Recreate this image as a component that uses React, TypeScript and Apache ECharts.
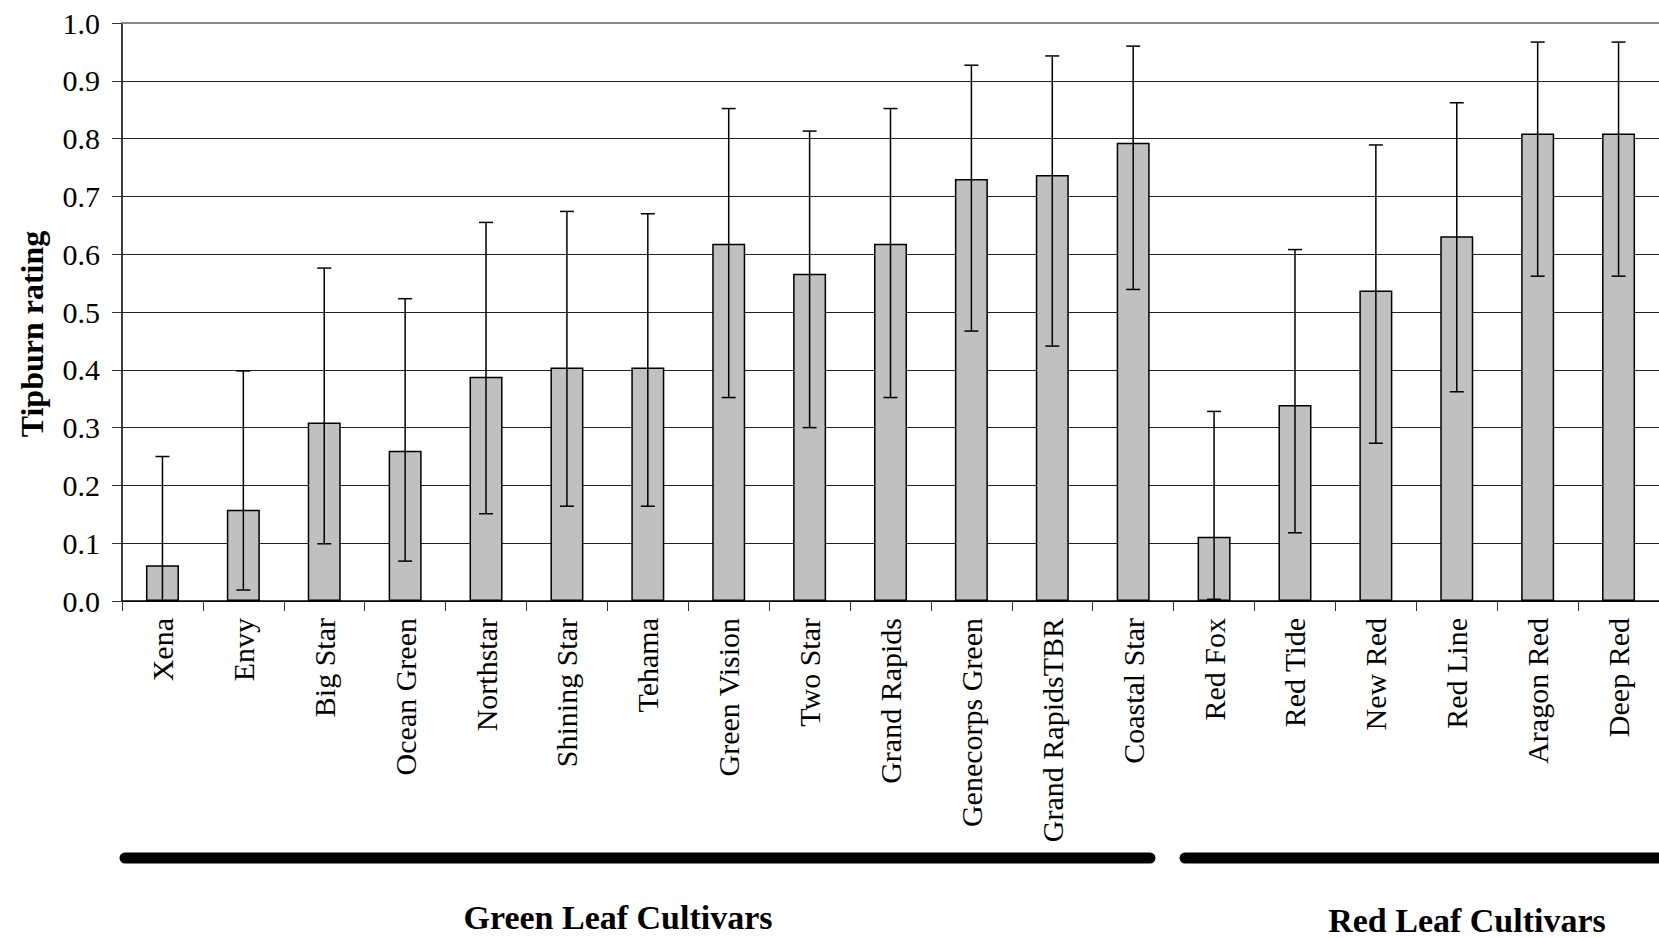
import React, { useEffect, useRef } from "react";
import * as echarts from "echarts";

const categories = [
  "Xena", "Envy", "Big Star", "Ocean Green", "Northstar", "Shining Star", "Tehama",
  "Green Vision", "Two Star", "Grand Rapids", "Genecorps Green", "Grand RapidsTBR",
  "Coastal Star", "Red Fox", "Red Tide", "New Red", "Red Line", "Aragon Red", "Deep Red",
];
const means = [0.062, 0.158, 0.309, 0.26, 0.388, 0.404, 0.404, 0.618, 0.566, 0.618, 0.73, 0.737, 0.793, 0.111, 0.339, 0.537, 0.631, 0.809, 0.809];
const upper = [0.25, 0.398, 0.576, 0.523, 0.655, 0.674, 0.67, 0.852, 0.813, 0.852, 0.927, 0.943, 0.96, 0.328, 0.608, 0.789, 0.862, 0.967, 0.967];
const lower = [0, 0.019, 0.099, 0.069, 0.151, 0.164, 0.164, 0.352, 0.3, 0.352, 0.467, 0.441, 0.539, 0.003, 0.118, 0.273, 0.362, 0.562, 0.562];
const yTicks = { min: 0, max: 1, interval: 0.1 };
const yTitle = "Tipburn rating";
const groups = ["Green Leaf Cultivars", "Red Leaf Cultivars"];

const FONT = "'Liberation Serif', 'Times New Roman', serif";

export default function App() {
  const ref = useRef<HTMLDivElement>(null);
  useEffect(() => {
    if (!ref.current) return;
    const chart = echarts.init(ref.current, null, { renderer: "svg" });
    chart.setOption({
      animation: false,
      backgroundColor: "#fff",
      grid: { left: 122, right: -4, top: 23, bottom: 337, containLabel: false },
      xAxis: [
        {
          type: "category",
          data: categories,
          axisLine: { lineStyle: { color: "#000", width: 1.5 } },
          axisTick: { show: true, length: 10, lineStyle: { color: "#333", width: 1 } },
          axisLabel: {
            rotate: 90,
            margin: 17,
            fontFamily: FONT,
            fontSize: 30,
            color: "#000",
            interval: 0,
          },
        },
        {
          type: "category",
          data: categories,
          position: "top",
          axisLine: { show: true, lineStyle: { color: "#888", width: 2 } },
          axisTick: { show: false },
          axisLabel: { show: false },
        },
      ],
      yAxis: {
        type: "value",
        min: yTicks.min,
        max: yTicks.max,
        interval: yTicks.interval,
        axisLine: { show: true, lineStyle: { color: "#000", width: 1.5 } },
        axisTick: { show: true, length: 10, lineStyle: { color: "#333" } },
        axisLabel: {
          margin: 22,
          fontFamily: FONT,
          fontSize: 30,
          color: "#000",
          formatter: (v: number) => v.toFixed(1),
        },
        splitLine: { show: true, lineStyle: { color: "#222", width: 1 } },
      },
      series: [
        {
          type: "bar",
          data: means,
          barWidth: 33,
          itemStyle: { color: "#C0C0C0", borderColor: "#000", borderWidth: 1.5 },
          z: 2,
        },
        {
          type: "custom",
          z: 3,
          data: categories.map((_, i) => [i, upper[i], lower[i]]),
          renderItem: (params: any, api: any) => {
            const x = api.value(0);
            const hiV = api.value(1);
            const loV = api.value(2);
            const hi = api.coord([x, hiV]);
            const lo = api.coord([x, loV]);
            const hw = 7;
            const style = { stroke: "#000", lineWidth: 1.5 };
            const children: any[] = [
              { type: "line", shape: { x1: hi[0], y1: hi[1], x2: lo[0], y2: lo[1] }, style },
              { type: "line", shape: { x1: hi[0] - hw, y1: hi[1], x2: hi[0] + hw, y2: hi[1] }, style },
            ];
            if (loV > 0) {
              children.push({ type: "line", shape: { x1: lo[0] - hw, y1: lo[1], x2: lo[0] + hw, y2: lo[1] }, style });
            }
            return { type: "group", children };
          },
        },
      ],
      graphic: [
        {
          type: "text",
          x: 32,
          y: 334,
          rotation: Math.PI / 2,
          style: {
            text: yTitle,
            fontFamily: FONT,
            fontSize: 32,
            fontWeight: "bold",
            fill: "#000",
            align: "center",
            verticalAlign: "middle",
          },
        },
        {
          type: "line",
          shape: { x1: 125, y1: 858, x2: 1150, y2: 858 },
          style: { stroke: "#000", lineWidth: 11, lineCap: "round" },
        },
        {
          type: "line",
          shape: { x1: 1185, y1: 858, x2: 1720, y2: 858 },
          style: { stroke: "#000", lineWidth: 11, lineCap: "round" },
        },
        {
          type: "text",
          x: 618,
          y: 917,
          style: {
            text: groups[0],
            fontFamily: FONT,
            fontSize: 34,
            fontWeight: "bold",
            fill: "#000",
            align: "center",
            verticalAlign: "middle",
          },
        },
        {
          type: "text",
          x: 1467,
          y: 920,
          style: {
            text: groups[1],
            fontFamily: FONT,
            fontSize: 34,
            fontWeight: "bold",
            fill: "#000",
            align: "center",
            verticalAlign: "middle",
          },
        },
      ],
    });
    return () => chart.dispose();
  }, []);
  return (
    <div
      ref={ref}
      style={{ position: "absolute", left: 0, top: 0, width: 1659, height: 938, background: "#fff" }}
    />
  );
}
